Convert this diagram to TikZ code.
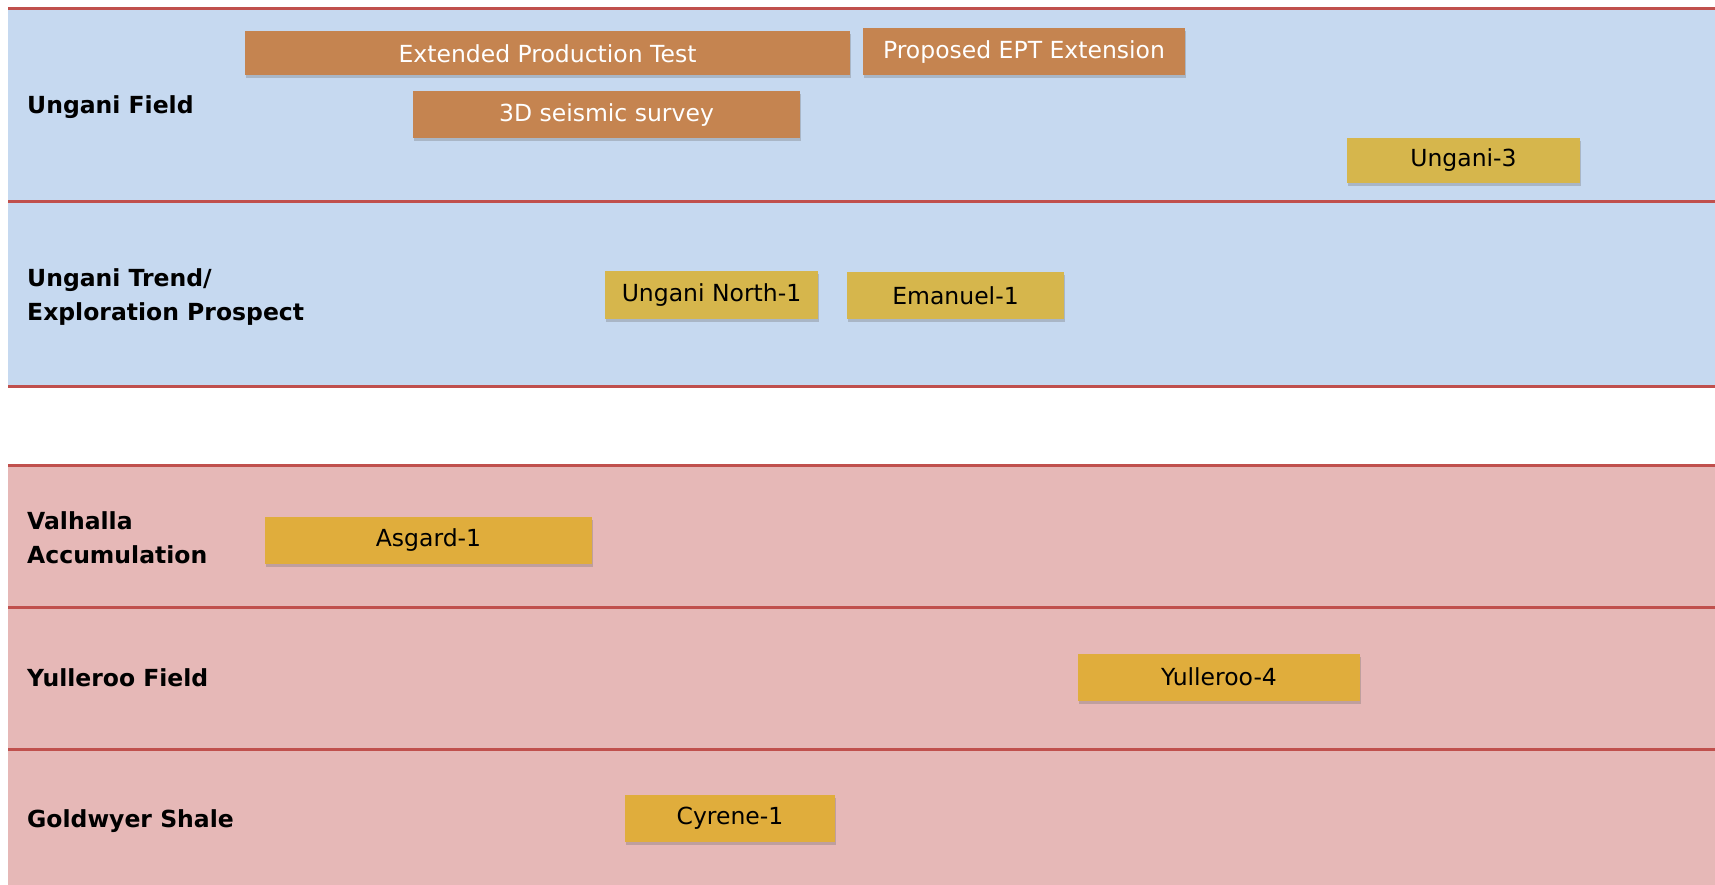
\documentclass[tikz,border=0pt]{standalone}
\usepackage{fontspec}
\setmainfont{DejaVu Sans}
\usetikzlibrary{shadows}
\definecolor{bandblue}{RGB}{198,217,240}
\definecolor{bandpink}{RGB}{230,184,183}
\definecolor{rulered}{RGB}{192,80,77}
\definecolor{taskorange}{RGB}{197,132,80}
\definecolor{wellolive}{RGB}{214,182,76}
\definecolor{wellgold}{RGB}{224,173,60}
\tikzset{
  divider/.style={
    draw=rulered,
    line width=3pt
  },
  rowlabel/.style={
    anchor=west,
    align=left,
    inner sep=0pt,
    font=\bfseries\fontsize{23.5}{34}\selectfont
  },
  bar/.style={
    rectangle,
    inner sep=0pt,
    minimum height=47pt,
    font=\fontsize{23.5}{28}\selectfont,
    drop shadow={shadow xshift=1pt, shadow yshift=-3pt, opacity=0.3, fill=black!60}
  },
  task-orange/.style={bar, fill=taskorange, text=white},
  well-olive/.style={bar, fill=wellolive},
  well-gold/.style={bar, fill=wellgold}
}

\begin{document}
\begin{tikzpicture}[x=1pt,y=-1pt]
  \useasboundingbox (0,0) rectangle (1715,885);
  \fill[bandblue] (8,9) rectangle (1715,386);
  \fill[bandpink] (8,465) rectangle (1715,885);
  \foreach \y in {9,202,386,465,607,749} {
    \draw[divider] (8,\y) -- (1715,\y);
  }

  \node[rowlabel] (ungani) at (27,107) {Ungani Field};
  \node[rowlabel] (trend) at (27,297) {Ungani Trend/\\Exploration Prospect};
  \node[rowlabel] (valhalla) at (27,538) {Valhalla\\Accumulation};
  \node[rowlabel] (yulleroo) at (27,678) {Yulleroo Field};
  \node[rowlabel] (goldwyer) at (27,821) {Goldwyer Shale};

  \node[task-orange, minimum width=605pt, minimum height=44pt] (ept) at (547.5,53.5) {Extended Production Test};
  \node[task-orange, minimum width=322pt] (eptext) at (1024,52) {Proposed EPT Extension};
  \node[task-orange, minimum width=387pt] (seismic) at (606.5,115) {3D seismic survey};
  \node[well-olive, minimum width=233pt, minimum height=45pt] (ungani3) at (1463.5,160.5) {Ungani-3};
  \node[well-olive, minimum width=213pt] (unganin1) at (711.5,295) {Ungani North-1};
  \node[well-olive, minimum width=217pt] (emanuel1) at (955.5,295.5) {Emanuel-1};
  \node[well-gold, minimum width=327pt] (asgard1) at (428.5,540) {Asgard-1};
  \node[well-gold, minimum width=282pt] (yulleroo4) at (1219,677) {Yulleroo-4};
  \node[well-gold, minimum width=210pt] (cyrene1) at (730,818) {Cyrene-1};
\end{tikzpicture}
\end{document}
